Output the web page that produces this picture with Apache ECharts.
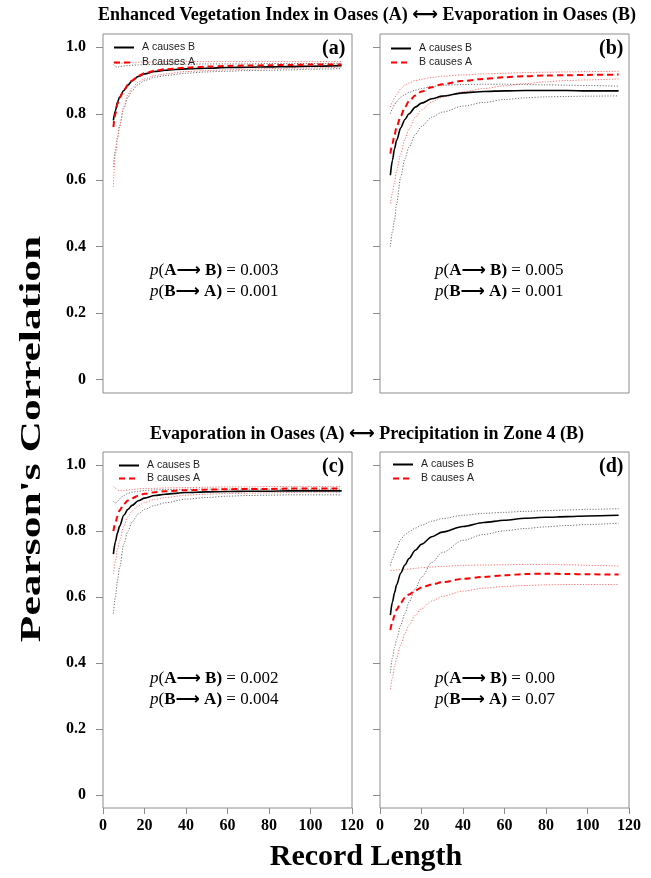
<!DOCTYPE html>
<html>
<head>
<meta charset="utf-8">
<script src="https://cdn.jsdelivr.net/npm/echarts@6/dist/echarts.min.js"></script>
<style>
  html, body { margin: 0; padding: 0; background: #fff; }
  #chart { width: 651px; height: 878px; }
</style>
</head>
<body>
<div id="chart"></div>
<script>
// Record lengths at which the cross-map correlation was evaluated
const recordLength = [5, 6, 7, 8, 10, 12, 14, 17, 20, 25, 30, 40, 50, 60, 70, 80, 90, 100, 115];

// (a) EVI in oases (A) <-> evaporation in oases (B)
const aAB    = [0.78, 0.81, 0.835, 0.85, 0.87, 0.886, 0.899, 0.912, 0.92, 0.927, 0.931, 0.935, 0.937, 0.939, 0.94, 0.941, 0.942, 0.943, 0.945];
const aABhi  = [0.948, 0.943, 0.94, 0.942, 0.944, 0.945, 0.946, 0.947, 0.948, 0.948, 0.949, 0.949, 0.95, 0.95, 0.95, 0.951, 0.951, 0.951, 0.952];
const aABlo  = [0.64, 0.69, 0.73, 0.765, 0.815, 0.85, 0.87, 0.888, 0.9, 0.91, 0.915, 0.922, 0.926, 0.928, 0.93, 0.931, 0.932, 0.934, 0.936];
const aBA    = [0.76, 0.8, 0.83, 0.848, 0.87, 0.887, 0.9, 0.914, 0.922, 0.93, 0.934, 0.939, 0.942, 0.944, 0.945, 0.946, 0.947, 0.948, 0.948];
const aBAhi  = [0.955, 0.952, 0.95, 0.951, 0.953, 0.954, 0.955, 0.955, 0.956, 0.956, 0.957, 0.957, 0.957, 0.957, 0.957, 0.957, 0.957, 0.957, 0.957];
const aBAlo  = [0.58, 0.68, 0.725, 0.76, 0.822, 0.858, 0.878, 0.895, 0.905, 0.915, 0.92, 0.927, 0.93, 0.932, 0.934, 0.936, 0.937, 0.938, 0.94];

// (b)
const bAB    = [0.615, 0.66, 0.695, 0.72, 0.758, 0.783, 0.8, 0.82, 0.832, 0.845, 0.853, 0.863, 0.867, 0.869, 0.87, 0.87, 0.87, 0.869, 0.869];
const bABhi  = [0.8, 0.815, 0.828, 0.837, 0.85, 0.858, 0.864, 0.871, 0.876, 0.882, 0.886, 0.888, 0.889, 0.889, 0.888, 0.887, 0.886, 0.885, 0.883];
const bABlo  = [0.4, 0.445, 0.48, 0.53, 0.61, 0.665, 0.7, 0.738, 0.762, 0.79, 0.805, 0.823, 0.834, 0.843, 0.848, 0.851, 0.852, 0.853, 0.854];
const bBA    = [0.68, 0.71, 0.737, 0.76, 0.793, 0.82, 0.838, 0.855, 0.867, 0.88, 0.889, 0.899, 0.905, 0.91, 0.913, 0.915, 0.916, 0.917, 0.918];
const bBAhi  = [0.82, 0.835, 0.848, 0.858, 0.875, 0.886, 0.893, 0.9, 0.904, 0.909, 0.913, 0.917, 0.92, 0.922, 0.924, 0.925, 0.926, 0.927, 0.928];
const bBAlo  = [0.53, 0.56, 0.595, 0.628, 0.68, 0.724, 0.755, 0.79, 0.812, 0.836, 0.85, 0.866, 0.876, 0.884, 0.891, 0.896, 0.9, 0.902, 0.905];

// (c) evaporation in oases (A) <-> precipitation in zone 4 (B)
const cAB    = [0.73, 0.768, 0.795, 0.815, 0.848, 0.866, 0.878, 0.892, 0.9, 0.908, 0.912, 0.917, 0.919, 0.92, 0.921, 0.921, 0.922, 0.922, 0.922];
const cABhi  = [0.89, 0.885, 0.89, 0.898, 0.908, 0.914, 0.918, 0.921, 0.923, 0.925, 0.926, 0.927, 0.927, 0.927, 0.927, 0.927, 0.927, 0.927, 0.927];
const cABlo  = [0.55, 0.6, 0.65, 0.69, 0.76, 0.8, 0.828, 0.852, 0.866, 0.878, 0.886, 0.897, 0.902, 0.906, 0.908, 0.909, 0.91, 0.91, 0.91];
const cBA    = [0.8, 0.825, 0.845, 0.863, 0.882, 0.893, 0.9, 0.907, 0.913, 0.918, 0.921, 0.924, 0.926, 0.927, 0.928, 0.928, 0.929, 0.929, 0.929];
const cBAhi  = [0.935, 0.93, 0.925, 0.922, 0.923, 0.925, 0.926, 0.928, 0.929, 0.93, 0.931, 0.932, 0.933, 0.934, 0.934, 0.935, 0.935, 0.935, 0.935];
const cBAlo  = [0.67, 0.71, 0.745, 0.77, 0.815, 0.843, 0.861, 0.877, 0.887, 0.896, 0.902, 0.909, 0.912, 0.914, 0.915, 0.916, 0.917, 0.918, 0.918];

// (d)
const dAB    = [0.545, 0.585, 0.613, 0.637, 0.673, 0.697, 0.717, 0.742, 0.76, 0.783, 0.797, 0.814, 0.826, 0.833, 0.839, 0.842, 0.844, 0.846, 0.848];
const dABhi  = [0.695, 0.715, 0.732, 0.748, 0.775, 0.789, 0.798, 0.809, 0.818, 0.83, 0.838, 0.848, 0.854, 0.857, 0.86, 0.862, 0.864, 0.866, 0.868];
const dABlo  = [0.37, 0.415, 0.447, 0.472, 0.515, 0.55, 0.585, 0.625, 0.66, 0.705, 0.735, 0.772, 0.79, 0.801, 0.808, 0.813, 0.817, 0.82, 0.824];
const dBA    = [0.5, 0.525, 0.545, 0.562, 0.582, 0.598, 0.608, 0.62, 0.629, 0.638, 0.645, 0.655, 0.661, 0.666, 0.67, 0.671, 0.67, 0.669, 0.668];
const dBAhi  = [0.68, 0.681, 0.681, 0.682, 0.683, 0.684, 0.685, 0.687, 0.689, 0.691, 0.693, 0.696, 0.697, 0.698, 0.699, 0.699, 0.698, 0.696, 0.694];
const dBAlo  = [0.32, 0.355, 0.39, 0.415, 0.455, 0.49, 0.515, 0.545, 0.565, 0.588, 0.602, 0.618, 0.627, 0.632, 0.635, 0.637, 0.638, 0.638, 0.638];

const yTicks = [0, 0.2, 0.4, 0.6, 0.8, 1.0];
const panelTags = ['(a)', '(b)', '(c)', '(d)'];
const pValues = [['0.003', '0.001'], ['0.005', '0.001'], ['0.002', '0.004'], ['0.00', '0.07']];
const headings = [
  ['Enhanced Vegetation Index in Oases (A)', 'Evaporation in Oases (B)'],
  ['Evaporation in Oases (A)', 'Precipitation in Zone 4 (B)']
];
const panels = [
  [aAB, aABhi, aABlo, aBA, aBAhi, aBAlo],
  [bAB, bABhi, bABlo, bBA, bBAhi, bBAlo],
  [cAB, cABhi, cABlo, cBA, cBAhi, cBAlo],
  [dAB, dABhi, dABlo, dBA, dBAhi, dBAlo]
];

const SERIF = "'Liberation Serif', 'Times New Roman', serif";
const SANS = "'Liberation Sans', Arial, sans-serif";
const FRAME = '#8c8c8c';

const grids = [
  { left: 103, top: 34, width: 249, height: 359 },
  { left: 380, top: 34, width: 249, height: 359 },
  { left: 103, top: 452, width: 249, height: 356 },
  { left: 380, top: 452, width: 249, height: 356 }
];

const pairs = ys => recordLength.map((x, i) => [x, ys[i]]);

const series = [];
panels.forEach((p, gi) => {
  const [ab, abHi, abLo, ba, baHi, baLo] = p;
  const base = { type: 'line', xAxisIndex: gi, yAxisIndex: gi, symbol: 'none', smooth: 0.3, smoothMonotone: 'x', silent: true, animation: false };
  const dotted = (name, ys, color) => Object.assign({}, base, {
    name, data: pairs(ys), lineStyle: { color, width: 1, type: [1.2, 1.6] }
  });
  series.push(dotted('A causes B (upper)', abHi, '#707070'));
  series.push(dotted('A causes B (lower)', abLo, '#707070'));
  series.push(dotted('B causes A (upper)', baHi, '#ff7373'));
  series.push(dotted('B causes A (lower)', baLo, '#ff7373'));
  series.push(Object.assign({}, base, {
    name: 'A causes B', data: pairs(ab), lineStyle: { color: '#000', width: 1.6, type: 'solid' }, itemStyle: { color: '#000' }
  }));
  series.push(Object.assign({}, base, {
    name: 'B causes A', data: pairs(ba), lineStyle: { color: '#ff0000', width: 2, type: [6, 4] }, itemStyle: { color: '#ff0000' }
  }));
});

const xAxes = grids.map((g, i) => ({
  gridIndex: i, type: 'value', min: 0, max: 120, interval: 20,
  axisLine: { show: false, onZero: false }, splitLine: { show: false },
  axisTick: { show: i >= 2, length: 6, lineStyle: { color: FRAME } },
  axisLabel: {
    show: i >= 2, margin: 10, showMinLabel: true, showMaxLabel: true,
    fontFamily: SERIF, fontWeight: 'bold', fontSize: 16, color: '#000'
  }
}));

const yAxes = grids.map((g, i) => ({
  gridIndex: i, type: 'value', min: -0.04, max: 1.04,
  axisLine: { show: false, onZero: false }, splitLine: { show: false },
  axisTick: { show: true, length: 7, customValues: yTicks, lineStyle: { color: FRAME } },
  axisLabel: {
    show: i % 2 === 0, customValues: yTicks, margin: 17,
    formatter: v => (v === 0 ? '0' : v.toFixed(1)),
    fontFamily: SERIF, fontWeight: 'bold', fontSize: 16, color: '#000'
  }
}));

const legendPos = [
  { left: 113, top: 42, gap: 4 },
  { left: 390, top: 43, gap: 3 },
  { left: 118, top: 460, gap: 2 },
  { left: 392, top: 459, gap: 3 }
];
const legends = legendPos.map(p => ({
  orient: 'vertical', left: p.left, top: p.top, padding: 0,
  itemWidth: 20, itemHeight: 10, itemGap: p.gap,
  selectedMode: false,
  itemStyle: { color: 'rgba(0,0,0,0)', borderWidth: 0, opacity: 0 },
  textStyle: { fontFamily: SANS, fontSize: 10.5, color: '#222', lineHeight: 10, padding: [0, 0, 0, 3] },
  data: ['A causes B', 'B causes A']
}));

const rich = {
  i: { fontFamily: SERIF, fontStyle: 'italic', fontSize: 17, color: '#000' },
  r: { fontFamily: SERIF, fontSize: 17, color: '#000' },
  b: { fontFamily: SERIF, fontWeight: 'bold', fontSize: 17, color: '#000' },
  ar: { fontFamily: "'DejaVu Sans', sans-serif", fontWeight: 'bold', fontSize: 17, color: '#000' }
};
const pText = (a, b, val) => `{i|p}{r|(}{b|${a}}{ar|⟶}{b| ${b})}{r| = ${val}}`;

const graphics = [];
grids.forEach((g, i) => {
  graphics.push({
    type: 'text', left: g.left + g.width - 30, top: g.top + 5,
    style: { text: panelTags[i], font: `bold 20px ${SERIF}`, fill: '#000' }
  });
  const px = g.left + (i % 2 === 0 ? 47 : 55);
  const py = g.top + (i < 2 ? 226 : 216);
  graphics.push({
    type: 'text', x: px, y: py,
    style: { text: pText('A', 'B', pValues[i][0]) + '\n' + pText('B', 'A', pValues[i][1]), rich, lineHeight: 21, verticalAlign: 'top' }
  });
});
const headingY = [6, 425];
headings.forEach((h, k) => {
  graphics.push({
    type: 'text', x: 367, y: headingY[k],
    style: { text: `${h[0]} {ar|⟷} ${h[1]}`, font: `bold 18px ${SERIF}`, fill: '#000', align: 'center',
      rich: { ar: { fontFamily: "'DejaVu Sans', sans-serif", fontWeight: 'bold', fontSize: 18, color: '#000' } } }
  });
});
graphics.push({
  type: 'text', x: 32, y: 439, rotation: Math.PI / 2, scaleX: 1.45,
  style: { text: "Pearson's Correlation", font: `bold 30px ${SERIF}`, fill: '#000', align: 'center', verticalAlign: 'middle' }
});
graphics.push({
  type: 'text', x: 366, y: 857,
  style: { text: 'Record Length', font: `bold 30px ${SERIF}`, fill: '#000', align: 'center', verticalAlign: 'middle' }
});

const chart = echarts.init(document.getElementById('chart'), null, { renderer: 'canvas' });
chart.setOption({
  animation: false,
  backgroundColor: '#fff',
  grid: grids.map(g => Object.assign({ show: true, borderColor: FRAME, borderWidth: 1, backgroundColor: 'transparent' }, g)),
  xAxis: xAxes,
  yAxis: yAxes,
  legend: legends,
  series,
  graphic: graphics
});
</script>
</body>
</html>
